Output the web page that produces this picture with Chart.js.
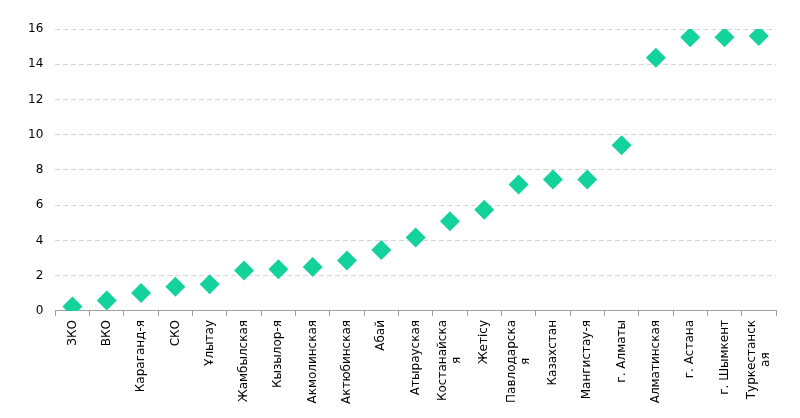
<!DOCTYPE html>
<html>
<head>
<meta charset="utf-8">
<script src="https://cdn.jsdelivr.net/npm/chart.js@4/dist/chart.umd.min.js"></script>
<style>
  html, body { margin: 0; padding: 0; background: #fff; }
  #wrap { width: 800px; height: 418px; }
</style>
</head>
<body>
<div id="wrap"><canvas id="chart"></canvas></div>
<script>
const regions = [
  'ЗКО', 'ВКО', 'Караганд-я', 'СКО', 'Ұлытау', 'Жамбылская', 'Кызылор-я',
  'Акмолинская', 'Актюбинская', 'Абай', 'Атырауская', ['Костанайска', 'я'],
  'Жетісу', ['Павлодарска', 'я'], 'Казахстан', 'Мангистау-я', 'г. Алматы',
  'Алматинская', 'г. Астана', 'г. Шымкент', ['Туркестанск', 'ая']
]
const values = [
  0.25, 0.6, 1.02, 1.37, 1.52, 2.3, 2.37,
  2.5, 2.86, 3.46, 4.17, 5.09,
  5.75, 7.18, 7.46, 7.46, 9.41,
  14.37, 15.53, 15.53, 15.6
]
const yTicks = [0, 2, 4, 6, 8, 10, 12, 14, 16]

const labelFont = '12px "DejaVu Sans"'

// rotated x labels, wrapped lines centred on the first one (like the original)
const xLabels = {
  id: 'xLabels',
  afterDraw(chart) {
    const sc = chart.scales.x
    const c = chart.ctx
    c.save()
    c.font = labelFont
    c.fillStyle = '#000'
    c.textBaseline = 'middle'
    regions.forEach((lab, i) => {
      const lines = Array.isArray(lab) ? lab : [lab]
      const px = sc.getPixelForTick(i)
      const w0 = c.measureText(lines[0]).width
      c.save()
      c.translate(px, sc.top + 9)
      c.rotate(-Math.PI / 2)
      lines.forEach((t, k) => {
        const dy = (k - (lines.length - 1) / 2) * 14
        if (k === 0) {
          c.textAlign = 'right'
          c.fillText(t, 0, dy)
        } else {
          c.textAlign = 'center'
          c.fillText(t, -w0 / 2, dy)
        }
      })
      c.restore()
    })
    c.restore()
  }
}

const ctx = document.getElementById('chart')

new Chart(ctx, {
  type: 'line',
  data: {
    labels: regions,
    datasets: [{
      data: values,
      showLine: false,
      pointStyle: 'rectRot',
      pointRadius: 10,
      pointHoverRadius: 10,
      pointBackgroundColor: '#14d29c',
      pointBorderColor: '#14d29c',
      pointBorderWidth: 0
    }]
  },
  options: {
    responsive: true,
    maintainAspectRatio: false,
    animation: false,
    layout: { padding: { left: 16, right: 24, top: 29, bottom: 10 } },
    plugins: {
      legend: { display: false },
      tooltip: { enabled: false }
    },
    scales: {
      x: {
        offset: true,
        grid: {
          offset: true,
          drawOnChartArea: false,
          tickLength: 5,
          color: '#a0a0a0'
        },
        border: { color: '#a0a0a0' },
        ticks: {
          autoSkip: false,
          minRotation: 90,
          maxRotation: 90,
          padding: 4,
          color: 'rgba(0,0,0,0)',
          font: { family: 'DejaVu Sans', size: 12 }
        }
      },
      y: {
        min: 0,
        max: 16,
        afterBuildTicks: axis => { axis.ticks = yTicks.map(v => ({ value: v })) },
        grid: {
          drawTicks: false,
          color: '#d6d6d6'
        },
        border: { display: false, dash: [5, 3] },
        ticks: {
          padding: 12,
          color: '#000',
          font: { family: 'DejaVu Sans', size: 12 }
        }
      }
    }
  },
  plugins: [xLabels]
})
</script>
</body>
</html>
